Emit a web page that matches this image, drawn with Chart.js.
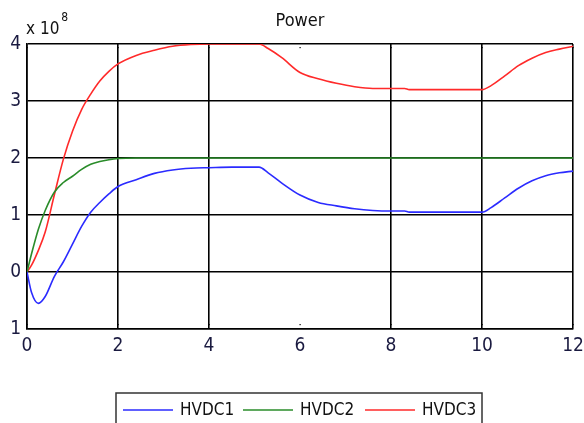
<!DOCTYPE html>
<html>
<head>
<meta charset="utf-8">
<script src="https://cdn.jsdelivr.net/npm/chart.js@4/dist/chart.umd.min.js"></script>
<style>
  html, body { margin: 0; padding: 0; background: #fff; }
  #wrap { position: relative; width: 584px; height: 423px; }
</style>
</head>
<body>
<div id="wrap"><canvas id="c" width="584" height="423"></canvas></div>
<script>
// ---- data (values in units of 10^8) ----
const time = [0, 0.1, 0.25, 0.4, 0.6, 0.8, 1.0, 1.2, 1.4, 1.6, 1.8, 2.0, 2.4, 2.8, 3.2, 3.6, 4, 4.5, 5, 5.1, 5.3, 5.6, 6, 6.4, 6.8, 7.2, 7.6, 8, 8.3, 8.4, 9, 9.5, 10, 10.2, 10.5, 10.8, 11.1, 11.4, 11.7, 12];
const hvdc1 = [0, -0.36, -0.55, -0.43, -0.08, 0.18, 0.49, 0.8, 1.05, 1.22, 1.37, 1.5, 1.62, 1.73, 1.79, 1.82, 1.83, 1.84, 1.84, 1.84, 1.74, 1.56, 1.35, 1.22, 1.16, 1.11, 1.08, 1.07, 1.07, 1.05, 1.05, 1.05, 1.05, 1.13, 1.3, 1.47, 1.6, 1.69, 1.74, 1.77];
const hvdc2 = [0, 0.32, 0.75, 1.08, 1.4, 1.57, 1.68, 1.8, 1.89, 1.94, 1.97, 1.99, 2, 2, 2, 2, 2, 2, 2, 2, 2, 2, 2, 2, 2, 2, 2, 2, 2, 2, 2, 2, 2, 2, 2, 2, 2, 2, 2, 2];
const hvdc3 = [0, 0.12, 0.38, 0.7, 1.35, 1.98, 2.47, 2.85, 3.12, 3.35, 3.52, 3.65, 3.8, 3.89, 3.96, 3.99, 4, 4, 4, 4, 3.92, 3.76, 3.5, 3.39, 3.31, 3.25, 3.22, 3.22, 3.22, 3.2, 3.2, 3.2, 3.2, 3.27, 3.44, 3.62, 3.75, 3.85, 3.91, 3.96];
const seriesNames = ['HVDC1', 'HVDC2', 'HVDC3'];
const xTickValues = [0, 2, 4, 6, 8, 10, 12];
const xGridHidden = [6];
const yTickValues = [-1, 0, 1, 2, 3, 4];
const yTickLabels = ['1', '0', '1', '2', '3', '4'];
const titleText = 'Power';
const exponentBase = 'x 10';
const exponentPower = '8';

const colors = ['#2b2bff', '#2a8c2a', '#ff2a2a'];
const FONT = '"DejaVu Sans Condensed", "Liberation Sans Narrow", "Liberation Sans", Arial, sans-serif';

function pts(ys) { return time.map((t, i) => ({ x: t, y: ys[i] })); }

const extras = {
  id: 'extras',
  afterDraw(chart) {
    const ctx = chart.ctx;
    const area = chart.chartArea;
    ctx.save();
    // title
    ctx.fillStyle = '#111';
    ctx.font = '18px ' + FONT;
    ctx.textAlign = 'center';
    ctx.textBaseline = 'middle';
    ctx.fillText(titleText, (area.left + area.right) / 2, 21);
    // exponent
    ctx.textAlign = 'left';
    ctx.font = '17px ' + FONT;
    ctx.fillText(exponentBase, 26, 30);
    const w = ctx.measureText(exponentBase).width;
    ctx.font = '12px ' + FONT;
    ctx.fillText(exponentPower, 26 + w + 2, 18);
    // small inner tick marks along the top edge
    ctx.fillStyle = '#000';
    const xs = chart.scales.x;
    xTickValues.forEach(v => {
      const px = xs.getPixelForValue(v);
      ctx.fillRect(px - 0.5, area.top + 3, 1.2, 1.2);
      ctx.fillRect(px - 0.5, area.bottom - 5, 1.2, 1.2);
    });
    // legend box
    const lx = 116, ly = 393, lw = 366, lh = 40;
    ctx.strokeStyle = '#333';
    ctx.lineWidth = 1.5;
    ctx.strokeRect(lx, ly, lw, lh);
    ctx.font = '17px ' + FONT;
    const starts = [123, 243, 365];
    chart.data.datasets.forEach((ds, i) => {
      const sx = starts[i];
      ctx.strokeStyle = ds.borderColor;
      ctx.lineWidth = 1.5;
      ctx.beginPath();
      ctx.moveTo(sx, 410);
      ctx.lineTo(sx + 50, 410);
      ctx.stroke();
      ctx.fillStyle = '#111';
      ctx.textAlign = 'left';
      ctx.fillText(ds.label, sx + 57, 411);
    });
    ctx.restore();
  }
};

new Chart(document.getElementById('c'), {
  type: 'line',
  data: {
    datasets: [
      { label: seriesNames[0], data: pts(hvdc1), borderColor: colors[0] },
      { label: seriesNames[1], data: pts(hvdc2), borderColor: colors[1] },
      { label: seriesNames[2], data: pts(hvdc3), borderColor: colors[2] }
    ].map(d => Object.assign(d, { borderWidth: 1.6, pointRadius: 0, fill: false, cubicInterpolationMode: 'monotone' }))
  },
  options: {
    responsive: false,
    animation: false,
    layout: { padding: { top: 44, right: 11, left: 0, bottom: 0 } },
    plugins: { legend: { display: false }, title: { display: false }, tooltip: { enabled: false } },
    scales: {
      x: {
        type: 'linear', min: 0, max: 12,
        afterBuildTicks: s => { s.ticks = xTickValues.map(v => ({ value: v })); },
        afterFit: s => { s.height = 94; s.paddingLeft = 0; s.paddingRight = 0; },
        grid: { color: ctx => (ctx.tick && xGridHidden.includes(ctx.tick.value)) ? 'rgba(0,0,0,0)' : '#000', lineWidth: 1.6, drawTicks: false },
        border: { color: '#000', width: 1.6 },
        ticks: { color: '#1a1a40', padding: 6, font: { family: FONT, size: 19 }, callback: v => String(v) }
      },
      y: {
        min: -1, max: 4,
        afterBuildTicks: s => { s.ticks = yTickValues.map(v => ({ value: v })); },
        afterFit: s => { s.width = 27; s.paddingTop = 0; s.paddingBottom = 0; },
        grid: { color: '#000', lineWidth: 1.6, drawTicks: false },
        border: { color: '#000', width: 1.6 },
        ticks: { color: '#1a1a40', padding: 6, font: { family: FONT, size: 19 },
                 callback: v => yTickLabels[yTickValues.indexOf(v)] }
      }
    }
  },
  plugins: [extras]
});
</script>
</body>
</html>
